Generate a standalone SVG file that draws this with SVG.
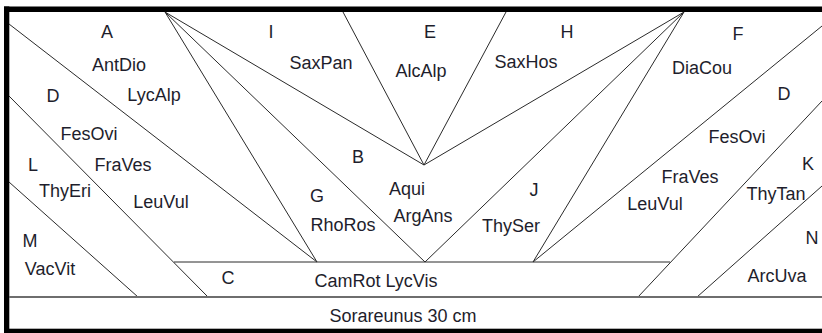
<svg xmlns="http://www.w3.org/2000/svg" width="822" height="333" viewBox="0 0 822 333">
<style>
.ln{stroke:#2a2a2a;stroke-width:1;fill:none}
.gl{stroke:#6e6e6e;stroke-width:2;fill:none}
.t{font-family:"Liberation Sans",Arial,sans-serif;font-size:18px;fill:#1e1e2c;text-anchor:middle}
</style>
<rect x="0" y="0" width="822" height="333" fill="#ffffff"/>
<g id="frame">
<rect x="4" y="6.5" width="818" height="5.5" fill="#000"/>
<rect x="4" y="6.5" width="5.3" height="326.5" fill="#000"/>
<rect x="4" y="328.7" width="818" height="4.3" fill="#000"/>
</g>
<g id="connectors">
<line class="ln" x1="9" y1="24" x2="317" y2="262"/>
<line class="ln" x1="9" y1="96" x2="208" y2="297"/>
<line class="ln" x1="9" y1="182" x2="138" y2="297"/>
<line class="ln" x1="165" y1="12" x2="317" y2="262"/>
<line class="ln" x1="165" y1="12" x2="424" y2="165"/>
<line class="ln" x1="165" y1="12" x2="425" y2="262"/>
<line class="ln" x1="343" y1="12" x2="424" y2="165"/>
<line class="ln" x1="506" y1="12" x2="424" y2="165"/>
<line class="ln" x1="684" y1="12" x2="424" y2="165"/>
<line class="ln" x1="684" y1="12" x2="425" y2="262"/>
<line class="ln" x1="684" y1="12" x2="533" y2="262"/>
<line class="ln" x1="822" y1="26" x2="533" y2="262"/>
<line class="ln" x1="822" y1="101" x2="638" y2="297"/>
<line class="ln" x1="822" y1="186" x2="697" y2="297"/>
<line class="ln" x1="174" y1="262" x2="670" y2="262"/>
<line class="gl" x1="9" y1="297" x2="822" y2="297"/>
</g>
<g id="labels">
<text class="t" x="107" y="38">A</text>
<text class="t" x="119" y="71">AntDio</text>
<text class="t" x="154" y="101">LycAlp</text>
<text class="t" x="53" y="102">D</text>
<text class="t" x="89" y="140">FesOvi</text>
<text class="t" x="33" y="171">L</text>
<text class="t" x="123" y="171">FraVes</text>
<text class="t" x="65" y="197">ThyEri</text>
<text class="t" x="161" y="208">LeuVul</text>
<text class="t" x="30" y="247">M</text>
<text class="t" x="50" y="275">VacVit</text>
<text class="t" x="228" y="284">C</text>
<text class="t" x="271" y="38">I</text>
<text class="t" x="321" y="69">SaxPan</text>
<text class="t" x="430" y="38">E</text>
<text class="t" x="421" y="77">AlcAlp</text>
<text class="t" x="526" y="68">SaxHos</text>
<text class="t" x="567" y="38">H</text>
<text class="t" x="358" y="163">B</text>
<text class="t" x="738" y="40">F</text>
<text class="t" x="702" y="74">DiaCou</text>
<text class="t" x="784" y="100">D</text>
<text class="t" x="737" y="143">FesOvi</text>
<text class="t" x="808" y="170">K</text>
<text class="t" x="690" y="183">FraVes</text>
<text class="t" x="655" y="210">LeuVul</text>
<text class="t" x="776" y="200">ThyTan</text>
<text class="t" x="812" y="244">N</text>
<text class="t" x="777" y="282">ArcUva</text>
<text class="t" x="317" y="202">G</text>
<text class="t" x="343" y="231">RhoRos</text>
<text class="t" x="407" y="195">Aqui</text>
<text class="t" x="423" y="222">ArgAns</text>
<text class="t" x="534" y="196">J</text>
<text class="t" x="511" y="232">ThySer</text>
<text class="t" x="376" y="287">CamRot LycVis</text>
<text class="t" x="403" y="322">Sorareunus 30 cm</text>
</g>
</svg>
